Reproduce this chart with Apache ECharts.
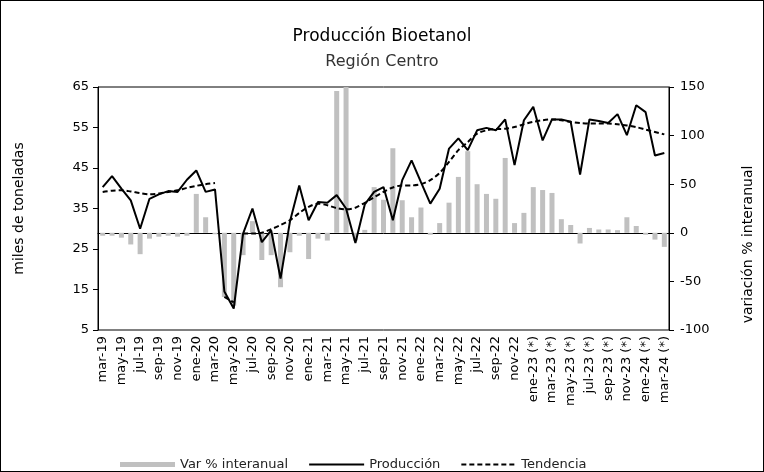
<!DOCTYPE html>
<html>
<head>
<meta charset="utf-8">
<script src="https://cdn.jsdelivr.net/npm/echarts@6/dist/echarts.min.js"></script>
<style>
    html, body { margin: 0; padding: 0; background: #fff; }
    #chart { width: 764px; height: 472px; box-sizing: border-box; border: 1px solid #000; }
</style>
</head>
<body>
<div id="chart"></div>
<script>
    // meses (mar-19 .. mar-24)
    var meses = [
        'mar-19', 'abr-19', 'may-19', 'jun-19', 'jul-19', 'ago-19', 'sep-19', 'oct-19', 'nov-19', 'dic-19',
        'ene-20', 'feb-20', 'mar-20', 'abr-20', 'may-20', 'jun-20', 'jul-20', 'ago-20', 'sep-20', 'oct-20', 'nov-20', 'dic-20',
        'ene-21', 'feb-21', 'mar-21', 'abr-21', 'may-21', 'jun-21', 'jul-21', 'ago-21', 'sep-21', 'oct-21', 'nov-21', 'dic-21',
        'ene-22', 'feb-22', 'mar-22', 'abr-22', 'may-22', 'jun-22', 'jul-22', 'ago-22', 'sep-22', 'oct-22', 'nov-22', 'dic-22',
        'ene-23 (*)', 'feb-23 (*)', 'mar-23 (*)', 'abr-23 (*)', 'may-23 (*)', 'jun-23 (*)', 'jul-23 (*)', 'ago-23 (*)',
        'sep-23 (*)', 'oct-23 (*)', 'nov-23 (*)', 'dic-23 (*)', 'ene-24 (*)', 'feb-24 (*)', 'mar-24 (*)'
    ];

    // produccion, miles de toneladas
    var produccion = [
        40.3, 43.0, 39.9, 37.0, 30.0, 37.4, 38.5, 39.3, 39.1, 42.1,
        44.4, 39.1, 39.7, 14.5, 10.3, 28.8, 35.0, 26.7, 29.6, 17.7, 31.7, 40.7,
        32.1, 36.6, 36.4, 38.3, 35.0, 26.5, 36.0, 39.1, 40.3, 32.1, 42.0, 46.9,
        41.5, 36.2, 39.9, 49.8, 52.3, 49.4, 54.3, 54.9, 54.3, 57.0, 45.7, 56.8,
        60.1, 51.8, 57.0, 57.0, 56.4, 43.4, 57.0, 56.6, 56.1, 58.3, 53.1, 60.5, 58.8, 48.1, 48.7
    ];

    // tendencia (cortada en abr-20 / may-20)
    var tendencia = [
        39.1, 39.4, 39.5, 39.2, 38.8, 38.5, 38.7, 39.1, 39.5, 40.1,
        40.6, 41.0, 41.3, '-', '-', 28.8, 28.8, 29.0, 29.9, 30.9, 32.1, 33.9,
        35.4, 36.2, 35.8, 35.1, 34.8, 35.2, 36.4, 37.8, 39.1, 40.2, 40.7, 40.7,
        41.0, 42.0, 43.8, 46.5, 49.4, 51.4, 53.5, 54.3, 54.6, 54.7, 55.1, 55.8,
        56.4, 56.8, 57.0, 56.8, 56.4, 56.1, 56.0, 56.0, 56.0, 55.8, 55.5, 55.1, 54.5, 53.9, 53.3
    ];
    var tendenciaCovid = [
        '-', '-', '-', '-', '-', '-', '-', '-', '-', '-',
        '-', '-', '-', 13.2, 11.8, '-', '-', '-', '-', '-', '-', '-',
        '-', '-', '-', '-', '-', '-', '-', '-', '-', '-', '-', '-',
        '-', '-', '-', '-', '-', '-', '-', '-', '-', '-', '-', '-',
        '-', '-', '-', '-', '-', '-', '-', '-', '-', '-', '-', '-', '-', '-', '-'
    ];

    // variacion % interanual
    var variacion = [
        -3, -3, -5, -12, -22, -6, -4, -3, -4, -3,
        40, 16, -1.5, -66, -75, -23, 12, -28, -23, -56, -20, -3,
        -27, -6, -8, 146, 150, -8, 3, 47, 34, 87, 33.5, 16,
        26, -2, 10, 31, 57.5, 84, 50, 40, 35, 77, 10, 20.5,
        47, 44, 41, 14, 8, -11, 5, 3.4, 3.4, 2.7, 16, 7, -2, -7, -14.5
    ];

    var fuente = 'DejaVu Sans';
    var sinSimbolo = { color: 'rgba(0,0,0,0)', borderWidth: 0, opacity: 0 };

    var chart = echarts.init(document.getElementById('chart'));
    var option = {
        animation: false,
        textStyle: { fontFamily: fuente },
        title: [
            {
                text: 'Producción Bioetanol',
                left: 'center',
                top: 22,
                textStyle: { fontFamily: fuente, fontSize: 17, fontWeight: 'normal', color: '#000' }
            },
            {
                text: 'Región Centro',
                left: 'center',
                top: 48,
                textStyle: { fontFamily: fuente, fontSize: 16, fontWeight: 'normal', color: '#333' }
            }
        ],
        legend: {
            top: 452,
            left: 114,
            itemWidth: 55,
            itemHeight: 5,
            itemGap: 20,
            textStyle: { fontFamily: fuente, fontSize: 13, color: '#222' },
            data: [
                { name: 'Var % interanual', icon: 'rect' },
                { name: 'Producción', itemStyle: sinSimbolo },
                { name: 'Tendencia', itemStyle: sinSimbolo }
            ]
        },
        grid: {
            left: 97,
            right: 91,
            top: 86,
            bottom: 141,
            show: true,
            borderColor: '#000',
            borderWidth: 1
        },
        xAxis: {
            type: 'category',
            data: meses,
            axisLine: { lineStyle: { color: '#000', width: 1 } },
            axisTick: { interval: 0, length: 5, lineStyle: { color: '#000' } },
            axisLabel: {
                interval: 1,
                rotate: 90,
                margin: 6,
                fontSize: 13,
                color: '#000'
            }
        },
        yAxis: [
            {
                type: 'value',
                min: 5,
                max: 65,
                interval: 10,
                name: 'miles de toneladas',
                nameLocation: 'middle',
                nameGap: 72,
                nameTextStyle: { fontFamily: fuente, fontSize: 14, color: '#000' },
                axisLine: { show: true, lineStyle: { color: '#000' } },
                axisTick: { show: true, length: 5, lineStyle: { color: '#000' } },
                axisLabel: { margin: 9, fontSize: 13, color: '#000' },
                splitLine: { show: false }
            },
            {
                type: 'value',
                min: -100,
                max: 150,
                interval: 50,
                name: 'variación % interanual',
                nameLocation: 'middle',
                nameGap: 72,
                nameRotate: 90,
                nameTextStyle: { fontFamily: fuente, fontSize: 14, color: '#000', padding: [0, 72, 0, 0] },
                axisLine: { show: true, lineStyle: { color: '#000' } },
                axisTick: { show: true, length: 5, lineStyle: { color: '#000' } },
                axisLabel: { margin: 11, fontSize: 13, color: '#000' },
                splitLine: { show: false }
            }
        ],
        series: [
            {
                name: 'Var % interanual',
                type: 'bar',
                yAxisIndex: 1,
                data: variacion,
                barWidth: 5,
                itemStyle: { color: '#c0c0c0' }
            },
            {
                name: 'Producción',
                type: 'line',
                yAxisIndex: 0,
                data: produccion,
                symbol: 'none',
                lineStyle: { color: '#000', width: 2 },
                itemStyle: { color: '#000' },
                z: 4
            },
            {
                name: 'Tendencia',
                type: 'line',
                yAxisIndex: 0,
                data: tendencia,
                symbol: 'none',
                smooth: 0.3,
                lineStyle: { color: '#000', width: 2, type: [5, 3] },
                itemStyle: { color: '#000' },
                z: 3
            },
            {
                name: 'Tendencia',
                type: 'line',
                yAxisIndex: 0,
                data: tendenciaCovid,
                symbol: 'none',
                lineStyle: { color: '#000', width: 2, type: [5, 3] },
                itemStyle: { color: '#000' },
                z: 3
            }
        ]
    };
    chart.setOption(option);
</script>
</body>
</html>
